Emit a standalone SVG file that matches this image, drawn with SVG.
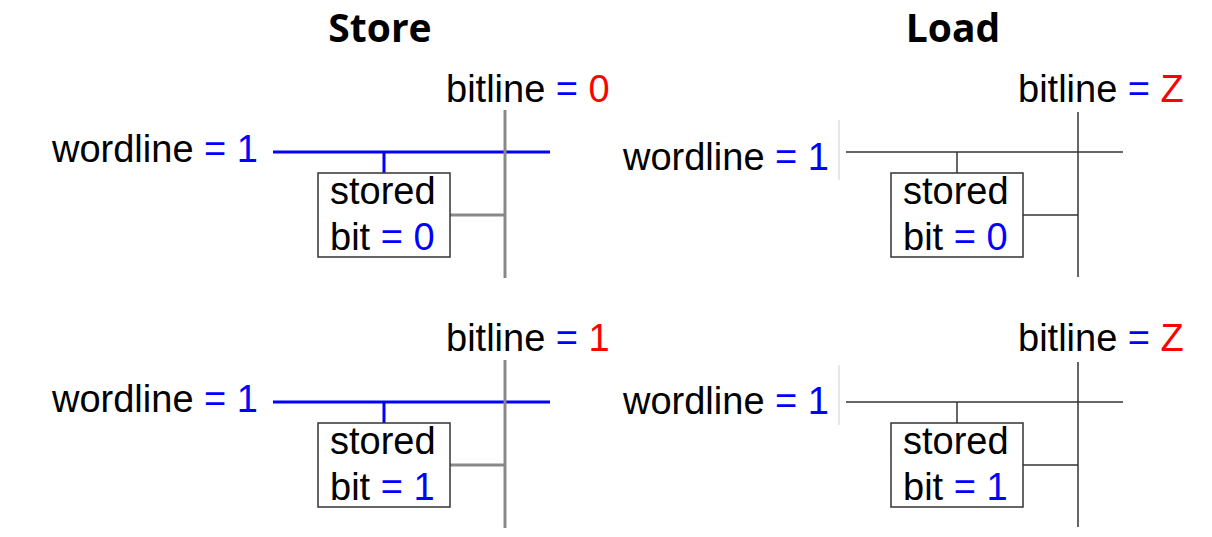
<svg xmlns="http://www.w3.org/2000/svg" width="1212" height="537" viewBox="0 0 1212 537">
<style>
text{font-family:"Liberation Sans",Arial,sans-serif;font-size:38px;fill:#000}
.title{font-family:"Open Sans","Liberation Sans",sans-serif;font-weight:700;font-size:39px;text-anchor:middle}
.b{fill:#0000ff}
.r{fill:#ff0000}
.box{fill:#fff;stroke:#333;stroke-width:1.5}
.wl{stroke:#0000ff;stroke-width:3;fill:none}
.bl{stroke:#888;stroke-width:3;fill:none}
.ln{stroke:#333;stroke-width:1.5;fill:none}
.faint{stroke:#d0d0d0;stroke-width:1;fill:none}
</style>
<rect width="1212" height="537" fill="#fff"/>
<g id="titles">
<text class="title" x="380" y="42">Store</text>
<text class="title" x="953" y="42">Load</text>
</g>
<g id="connectors">
<line class="wl" x1="273" y1="152" x2="550" y2="152"/>
<line class="wl" x1="384" y1="152" x2="384" y2="173"/>
<line class="bl" x1="450" y1="215" x2="505" y2="215"/>
<line class="bl" x1="505" y1="110" x2="505" y2="278"/>
<line class="wl" x1="273" y1="402" x2="550" y2="402"/>
<line class="wl" x1="384" y1="402" x2="384" y2="423"/>
<line class="bl" x1="450" y1="465" x2="505" y2="465"/>
<line class="bl" x1="505" y1="360" x2="505" y2="528"/>
<line class="faint" x1="839" y1="120" x2="839" y2="180"/>
<line class="ln" x1="846" y1="152" x2="1123" y2="152"/>
<line class="ln" x1="957" y1="152" x2="957" y2="173"/>
<line class="ln" x1="1023" y1="215" x2="1078" y2="215"/>
<line class="ln" x1="1078" y1="112" x2="1078" y2="277"/>
<line class="faint" x1="839" y1="365" x2="839" y2="425"/>
<line class="ln" x1="846" y1="402" x2="1123" y2="402"/>
<line class="ln" x1="957" y1="402" x2="957" y2="423"/>
<line class="ln" x1="1023" y1="465" x2="1078" y2="465"/>
<line class="ln" x1="1078" y1="362" x2="1078" y2="527"/>
</g>
<g id="store-top-wordline"><text x="52" y="162">wordline <tspan class="b">= 1</tspan></text></g>
<g id="store-top-bitline"><text x="446" y="102">bitline <tspan class="b">=</tspan> <tspan class="r">0</tspan></text></g>
<g id="store-top-cell">
<rect class="box" x="318" y="173" width="132" height="84"/>
<text x="330" y="204">stored</text>
<text x="330" y="250">bit <tspan class="b">= 0</tspan></text>
</g>
<g id="store-bottom-wordline"><text x="52" y="412">wordline <tspan class="b">= 1</tspan></text></g>
<g id="store-bottom-bitline"><text x="446" y="351">bitline <tspan class="b">=</tspan> <tspan class="r">1</tspan></text></g>
<g id="store-bottom-cell">
<rect class="box" x="318" y="423" width="132" height="84"/>
<text x="330" y="454">stored</text>
<text x="330" y="500">bit <tspan class="b">= 1</tspan></text>
</g>
<g id="load-top-wordline"><text x="623" y="170">wordline <tspan class="b">= 1</tspan></text></g>
<g id="load-top-bitline"><text x="1018" y="102">bitline <tspan class="b">=</tspan> <tspan class="r">Z</tspan></text></g>
<g id="load-top-cell">
<rect class="box" x="891" y="173" width="132" height="84"/>
<text x="903" y="204">stored</text>
<text x="903" y="250">bit <tspan class="b">= 0</tspan></text>
</g>
<g id="load-bottom-wordline"><text x="623" y="414">wordline <tspan class="b">= 1</tspan></text></g>
<g id="load-bottom-bitline"><text x="1018" y="351">bitline <tspan class="b">=</tspan> <tspan class="r">Z</tspan></text></g>
<g id="load-bottom-cell">
<rect class="box" x="891" y="423" width="132" height="84"/>
<text x="903" y="454">stored</text>
<text x="903" y="500">bit <tspan class="b">= 1</tspan></text>
</g>
</svg>
